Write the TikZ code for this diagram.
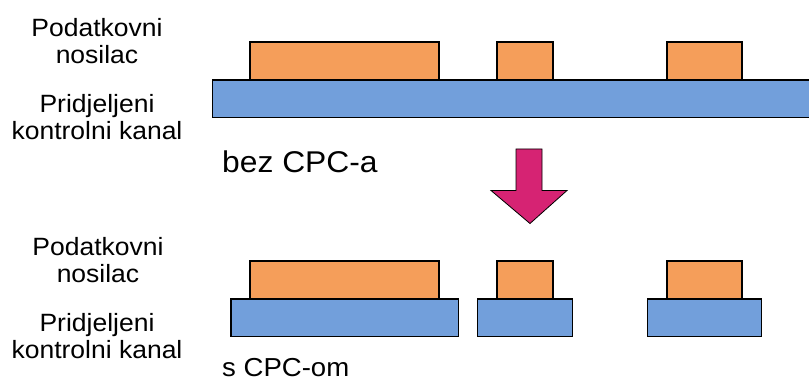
\documentclass[tikz,border=0pt]{standalone}
\usepackage{fontspec}
\setmainfont[FakeStretch=1.06]{Liberation Sans}
\definecolor{carrier}{HTML}{F59E5A}
\definecolor{chan}{HTML}{729FDB}
\definecolor{arrowc}{HTML}{D62373}
\begin{document}
\begin{tikzpicture}[x=1pt,y=-1pt,
  lbl/.style={align=center,inner sep=0pt,font=\fontsize{25}{27}\selectfont},
  captext/.style={anchor=base west,inner sep=0pt,font=\fontsize{30}{32}\selectfont},
  orangebox/.style={draw=black,line width=1.4pt,fill=carrier,anchor=north west,inner sep=0pt,outer sep=0pt},
  bluebox/.style={draw=black,line width=1.4pt,fill=chan,anchor=north west,inner sep=0pt,outer sep=0pt}]
\useasboundingbox (0,0) rectangle (809,385);
% labels
\node[lbl] (pn1) at (97,41) {Podatkovni\\nosilac};
\node[lbl] (pk1) at (97,117) {Pridjeljeni\\kontrolni kanal};
\node[lbl] (pn2) at (98,260) {Podatkovni\\nosilac};
\node[lbl] (pk2) at (97,336) {Pridjeljeni\\kontrolni kanal};
\node[captext] (bez) at (222,173) {bez CPC-a};
\node[captext,font=\fontsize{26}{30}\selectfont] (s) at (222,376) {s CPC-om};
% top row
\node[bluebox,minimum width=610pt,minimum height=37.5pt] (b0) at (212.5,80) {};
\node[orangebox,minimum width=189pt,minimum height=38pt] (o1) at (250,42) {};
\node[orangebox,minimum width=56pt,minimum height=38pt] (o2) at (497,42) {};
\node[orangebox,minimum width=75pt,minimum height=38pt] (o3) at (667,42) {};
% arrow
\draw[line width=0.8pt,fill=arrowc] (516,149) -- (542,149) -- (542,190.5) -- (567,190.5) -- (530,223.5) -- (491,190.5) -- (516,190.5) -- cycle;
% bottom row
\node[bluebox,minimum width=227.5pt,minimum height=37.5pt] (b1) at (231,299) {};
\node[bluebox,minimum width=95pt,minimum height=37.5pt] (b2) at (477.5,299) {};
\node[bluebox,minimum width=114pt,minimum height=37.5pt] (b3) at (647.5,299) {};
\node[orangebox,minimum width=189pt,minimum height=38pt] (p1) at (250,261) {};
\node[orangebox,minimum width=56pt,minimum height=38pt] (p2) at (497,261) {};
\node[orangebox,minimum width=75pt,minimum height=38pt] (p3) at (667,261) {};
\end{tikzpicture}
\end{document}
